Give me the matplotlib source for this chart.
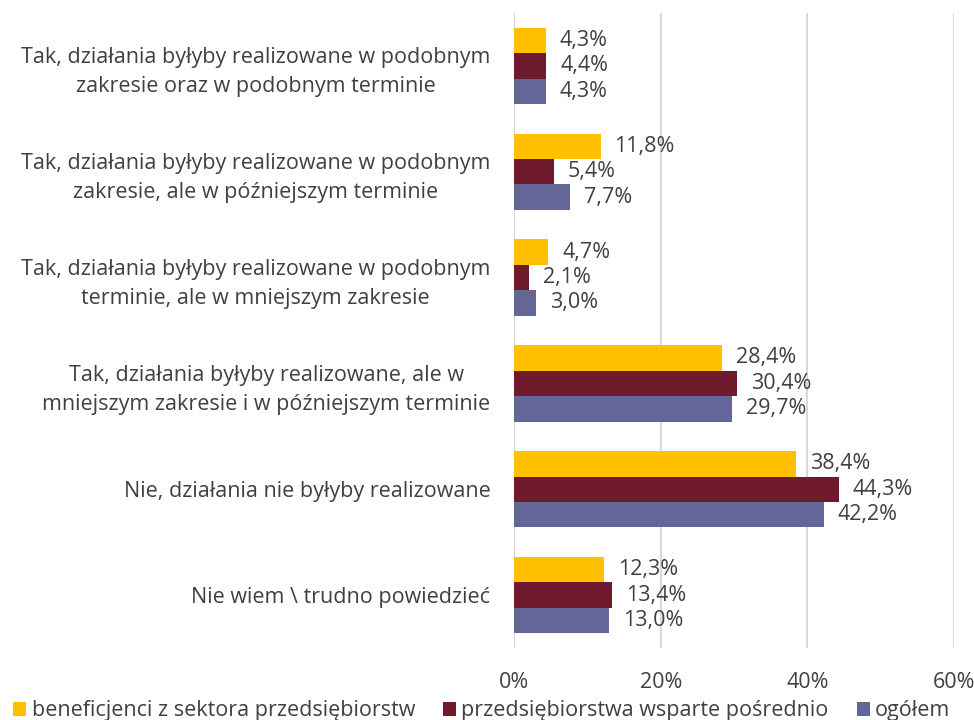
import numpy as np
import matplotlib.pyplot as plt

plt.rcParams['font.family'] = ['Open Sans', 'DejaVu Sans']

categories = [
    'Tak, działania byłyby realizowane w podobnym\nzakresie oraz w podobnym terminie',
    'Tak, działania byłyby realizowane w podobnym\nzakresie, ale w późniejszym terminie',
    'Tak, działania byłyby realizowane w podobnym\nterminie, ale w mniejszym zakresie',
    'Tak, działania byłyby realizowane, ale w\nmniejszym zakresie i w późniejszym terminie',
    'Nie, działania nie byłyby realizowane',
    'Nie wiem \\ trudno powiedzieć',
]
series_names = ['beneficjenci z sektora przedsiębiorstw',
                'przedsiębiorstwa wsparte pośrednio',
                'ogółem']
beneficjenci = [4.3, 11.8, 4.7, 28.4, 38.4, 12.3]
posrednio = [4.4, 5.4, 2.1, 30.4, 44.3, 13.4]
ogolem = [4.3, 7.7, 3.0, 29.7, 42.2, 13.0]
colors = ['#FFC000', '#701B2D', '#646697']
text_color = '#404040'
fs = 15.5

fig = plt.figure(figsize=(9.74, 7.2), dpi=100)
ax = fig.add_axes([0.5277, 0.1, 0.452, 0.882])

y = np.arange(len(categories))
h = 0.24
for i, (vals, col, name) in enumerate(zip([beneficjenci, posrednio, ogolem], colors, series_names)):
    pos = y + (i - 1) * h
    ax.barh(pos, vals, height=h, color=col, label=name)
    for p, v in zip(pos, vals):
        ax.annotate(f'{v:.1f}%'.replace('.', ','), (v, p), xytext=(10, 0),
                    textcoords='offset points', va='center', ha='left',
                    fontsize=fs, color=text_color)

ax.set_ylim(len(categories) - 0.5, -0.5)
ax.set_xlim(0, 60)
ax.set_xticks([0, 20, 40, 60])
ax.set_xticklabels(['0%', '20%', '40%', '60%'])
ax.set_yticks(y)
ax.set_yticklabels(categories, multialignment='center', linespacing=1.5)
ax.tick_params(axis='y', length=0, pad=17, labelsize=fs, labelcolor=text_color)
ax.tick_params(axis='x', length=0, pad=17, labelsize=fs, labelcolor=text_color)
ax.grid(axis='x', color='#D9D9D9', linewidth=1.5)
ax.set_axisbelow(True)
for s in ax.spines.values():
    s.set_visible(False)

fig.legend(loc='lower left', bbox_to_anchor=(0.005, -0.014), ncol=3, frameon=False,
           fontsize=fs, labelcolor=text_color, handlelength=0.6, handleheight=0.6,
           handletextpad=0.25, columnspacing=1.3, borderaxespad=0)

fig.savefig('out.png', dpi=100)
